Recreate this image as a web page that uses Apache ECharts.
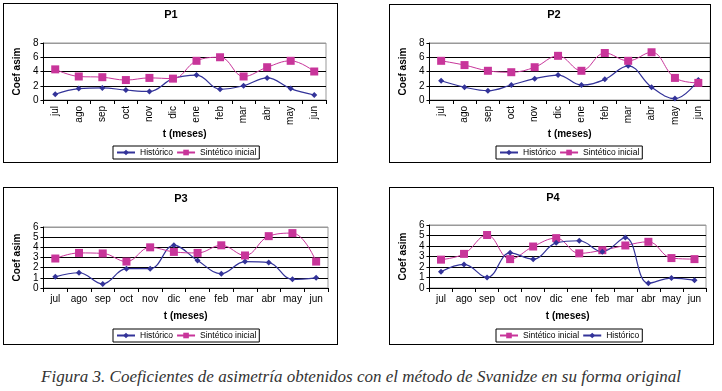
<!DOCTYPE html>
<html>
<head>
<meta charset="utf-8">
<script src="https://cdn.jsdelivr.net/npm/echarts@6/dist/echarts.min.js"></script>
<style>
body { margin: 0; background: #fff; width: 722px; height: 391px; position: relative; overflow: hidden; }
.panel { position: absolute; border: 1px solid #000; box-sizing: border-box; background: #fff; }
#caption { position: absolute; left: 0; width: 722px; top: 367px; text-align: center;
    font-family: "Liberation Serif", "DejaVu Serif", serif; font-style: italic; font-size: 17px; color: #333; }
</style>
</head>
<body>
<div class="panel" id="p1" style="left:3px;top:3px;width:335px;height:160px"></div>
<div class="panel" id="p2" style="left:389px;top:4px;width:322px;height:159px"></div>
<div class="panel" id="p3" style="left:3px;top:187px;width:335px;height:158px"></div>
<div class="panel" id="p4" style="left:389px;top:187px;width:325px;height:158px"></div>
<div id="caption">Figura 3. Coeficientes de asimetría obtenidos con el método de Svanidze en su forma original</div>
<script>
var meses = ["jul", "ago", "sep", "oct", "nov", "dic", "ene", "feb", "mar", "abr", "may", "jun"];

// P1
var p1Hist = [0.8, 1.6, 1.7, 1.4, 1.2, 3.0, 3.5, 1.5, 2.0, 3.1, 1.6, 0.7];
var p1Sint = [4.3, 3.3, 3.2, 2.8, 3.1, 3.0, 5.5, 6.0, 3.3, 4.6, 5.5, 4.0];
// P2
var p2Hist = [2.7, 1.8, 1.3, 2.1, 3.0, 3.5, 2.1, 2.9, 4.8, 1.8, 0.2, 2.8];
var p2Sint = [5.5, 4.9, 4.1, 3.9, 4.6, 6.2, 4.1, 6.6, 5.5, 6.7, 3.1, 2.4];
// P3
var p3Hist = [1.1, 1.5, 0.4, 1.9, 1.9, 4.2, 2.7, 1.4, 2.6, 2.5, 0.85, 1.0];
var p3Sint = [2.9, 3.45, 3.4, 2.6, 4.0, 3.55, 3.45, 4.2, 3.2, 5.1, 5.4, 2.6];
// P4
var p4Hist = [1.55, 2.25, 1.0, 3.35, 2.75, 4.3, 4.5, 3.45, 4.8, 0.45, 0.95, 0.75];
var p4Sint = [2.7, 3.25, 5.05, 2.75, 3.95, 4.75, 3.3, 3.6, 4.05, 4.4, 2.85, 2.75];

var colorHist = "#333399";
var colorSint = "#C8359A";
var font = "Liberation Sans, Arial, sans-serif";

function histSeries(values) {
    return {
        name: "Histórico", type: "line", data: values, smooth: 0.4,
        symbol: "diamond", symbolSize: 6,
        lineStyle: { color: colorHist, width: 1.2 },
        itemStyle: { color: colorHist }
    };
}
function sintSeries(values) {
    return {
        name: "Sintético inicial", type: "line", data: values, smooth: 0.4,
        symbol: "rect", symbolSize: 8,
        lineStyle: { color: colorSint, width: 1 },
        itemStyle: { color: colorSint }
    };
}

function makeChart(id, cfg) {
    var chart = echarts.init(document.getElementById(id));
    var n = cfg.max / cfg.interval + 1;
    var splitColors = [];
    for (var i = 0; i < n; i++) splitColors.push(i == n - 1 ? "#999" : "#000");
    var option = {
        animation: false,
        textStyle: { fontFamily: font },
        title: {
            text: cfg.title, left: cfg.titleX, top: cfg.titleY, padding: 0,
            textAlign: "center",
            textStyle: { fontSize: 11, fontWeight: "bold", color: "#000", fontFamily: font }
        },
        legend: {
            data: cfg.legend,
            left: cfg.legendLeft, top: cfg.legendTop,
            orient: "horizontal",
            borderColor: "#000", borderWidth: 1,
            padding: [2, 3], itemGap: 3, itemWidth: 18, itemHeight: 7,
            textStyle: { fontSize: 8.5, color: "#000", fontFamily: font }
        },
        grid: {
            left: cfg.grid[0], top: cfg.grid[1], width: cfg.grid[2], height: cfg.grid[3],
            show: true, borderColor: "#999", borderWidth: 1, backgroundColor: "#fff"
        },
        xAxis: {
            type: "category", data: meses, boundaryGap: true,
            name: "t (meses)", nameLocation: "middle", nameGap: cfg.nameGapX,
            nameTextStyle: { fontSize: 10, fontWeight: "bold", color: "#000" },
            axisLine: { lineStyle: { color: "#000", width: 1 } },
            axisTick: { show: true, length: 4, lineStyle: { color: "#000" } },
            axisLabel: { interval: 0, rotate: cfg.rotate, fontSize: 10, color: "#000", margin: 6 }
        },
        yAxis: {
            type: "value", min: 0, max: cfg.max, interval: cfg.interval,
            name: "Coef asim", nameLocation: "middle", nameGap: 14, nameRotate: 90,
            nameTextStyle: { fontSize: 10, fontWeight: "bold", color: "#000" },
            axisLine: { show: true, lineStyle: { color: "#000", width: 1 } },
            axisTick: { show: true, length: 3, lineStyle: { color: "#000" } },
            axisLabel: { fontSize: 10, color: "#000", margin: 5 },
            splitLine: { show: true, lineStyle: { color: splitColors, width: 1 } }
        },
        series: cfg.series
    };
    chart.setOption(option);
}

makeChart("p1", {
    title: "P1", titleX: 167, titleY: 5, max: 8, interval: 2, rotate: 90,
    grid: [35, 39, 287, 57], nameGapX: 27,
    legend: ["Histórico", "Sintético inicial"], legendLeft: 109, legendTop: 142,
    series: [histSeries(p1Hist), sintSeries(p1Sint)]
});
makeChart("p2", {
    title: "P2", titleX: 164, titleY: 4, max: 8, interval: 2, rotate: 90,
    grid: [36, 38, 284, 57], nameGapX: 27,
    legend: ["Histórico", "Sintético inicial"], legendLeft: 106, legendTop: 141,
    series: [histSeries(p2Hist), sintSeries(p2Sint)]
});
makeChart("p3", {
    title: "P3", titleX: 177, titleY: 5, max: 6, interval: 1, rotate: 0,
    grid: [35, 39, 289, 61], nameGapX: 23,
    legend: ["Histórico", "Sintético inicial"], legendLeft: 109, legendTop: 141,
    series: [histSeries(p3Hist), sintSeries(p3Sint)]
});
makeChart("p4", {
    title: "P4", titleX: 163, titleY: 4, max: 6, interval: 1, rotate: 0,
    grid: [37, 37, 279, 63], nameGapX: 23,
    legend: ["Sintético inicial", "Histórico"], legendLeft: 106, legendTop: 141,
    series: [sintSeries(p4Sint), histSeries(p4Hist)]
});
</script>
</body>
</html>
